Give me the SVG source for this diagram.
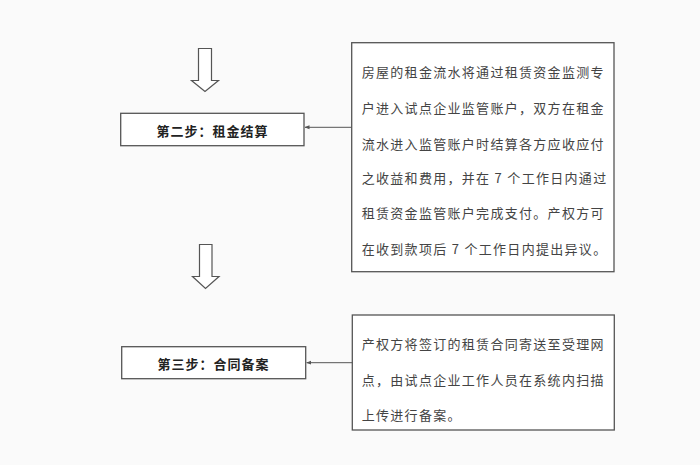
<svg xmlns="http://www.w3.org/2000/svg" width="700" height="465" viewBox="0 0 700 465">
<style>
.box{fill:#ffffff;stroke:#555;stroke-width:1.3}
.step{font-family:"Noto Sans CJK SC","Noto Sans CJK JP",sans-serif;font-size:13px;letter-spacing:1px;fill:#222;font-weight:bold;text-anchor:middle;dominant-baseline:central}
.desc{font-family:"Noto Sans CJK SC","Noto Sans CJK JP",sans-serif;font-size:13px;letter-spacing:1.3px;fill:#444;dominant-baseline:central}
.blk{fill:#fff;stroke:#555;stroke-width:1.2;stroke-linejoin:miter}
.conn{stroke:#555;stroke-width:1;fill:none}
</style>
<defs>
<marker id="ah" viewBox="0 0 10 10" refX="9" refY="5" markerWidth="5" markerHeight="5" orient="auto-start-reverse">
<path d="M0,1 L10,5 L0,9 z" fill="#555"/>
</marker>
</defs>
<rect width="700" height="465" fill="#fafafa"/>
<g id="arrow1">
<polygon class="blk" points="198.5,48.5 211.5,48.5 211.5,80.5 218.5,80.5 205,91.5 191.5,80.5 198.5,80.5"/>
</g>
<g id="arrow2">
<polygon class="blk" points="199.5,244.5 212,244.5 212,276.5 219,276.5 205.5,288.5 192.5,276.5 199.5,276.5"/>
</g>
<g id="step2">
<rect class="box" x="120.7" y="113.3" width="183.3" height="32.4"/>
<text class="step" x="212.5" y="130">第二步：租金结算</text>
</g>
<g id="step3">
<rect class="box" x="121.7" y="346.7" width="184" height="32"/>
<text class="step" x="213.5" y="363.5">第三步：合同备案</text>
</g>
<g id="desc2">
<rect class="box" x="351.7" y="42.7" width="262.3" height="229"/>
<text class="desc" x="361.7" y="71.7">房屋的租金流水将通过租赁资金监测专</text>
<text class="desc" x="361.7" y="107.7">户进入试点企业监管账户，双方在租金</text>
<text class="desc" x="361.7" y="143.3">流水进入监管账户时结算各方应收应付</text>
<text class="desc" x="361.7" y="177">之收益和费用，并在 7 个工作日内通过</text>
<text class="desc" x="361.7" y="212.7">租赁资金监管账户完成支付。产权方可</text>
<text class="desc" x="361.7" y="248.3">在收到款项后 7 个工作日内提出异议。</text>
</g>
<g id="desc3">
<rect class="box" x="352.3" y="315" width="262" height="115"/>
<text class="desc" x="361.7" y="343.3">产权方将签订的租赁合同寄送至受理网</text>
<text class="desc" x="361.7" y="379.3">点，由试点企业工作人员在系统内扫描</text>
<text class="desc" x="361.7" y="414.3">上传进行备案。</text>
</g>
<g id="connectors">
<line class="conn" x1="351.7" y1="127.3" x2="305" y2="127.3" marker-end="url(#ah)"/>
<line class="conn" x1="352.3" y1="362.7" x2="306.7" y2="362.7" marker-end="url(#ah)"/>
</g>
</svg>
